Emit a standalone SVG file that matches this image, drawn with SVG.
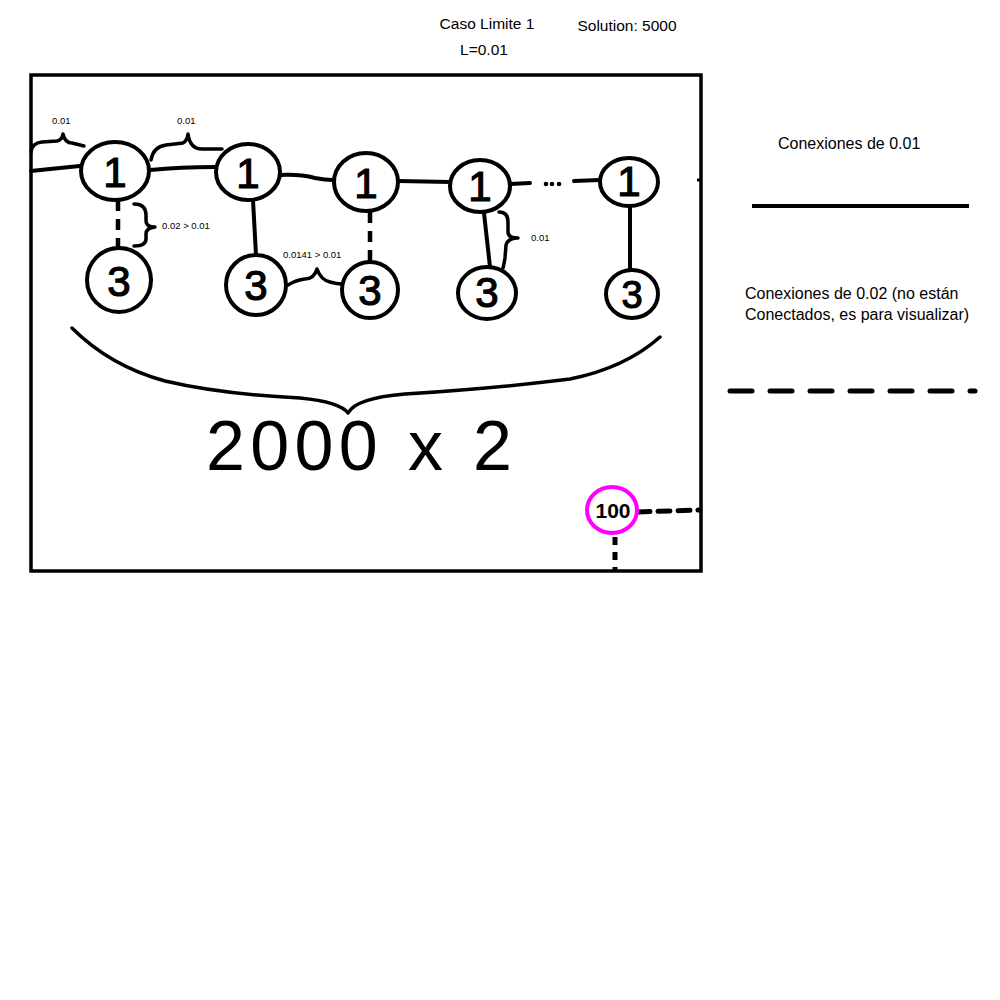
<svg xmlns="http://www.w3.org/2000/svg" width="1000" height="1000" viewBox="0 0 1000 1000">
<style>
.t{font-family:"Liberation Sans",Arial,sans-serif;fill:#000}
.title{font-size:15.5px}
.leg{font-size:16px}
.small{font-size:9.5px}
.node ellipse{fill:none;stroke:#000;stroke-width:4}
.num{font-family:"Liberation Sans",Arial,sans-serif;font-size:42px;fill:#000;stroke:#000;stroke-width:1.2;text-anchor:middle}
.solid{fill:none;stroke:#000;stroke-width:4;stroke-linecap:round;stroke-linejoin:round}
.dash{fill:none;stroke:#000;stroke-width:4.5;stroke-dasharray:11 8}
.brace{fill:none;stroke:#000;stroke-width:3.5;stroke-linecap:round;stroke-linejoin:round}
</style>
<rect width="1000" height="1000" fill="#fff"/>
<text class="t title" x="487" y="29" text-anchor="middle">Caso Limite 1</text>
<text class="t title" x="484" y="55" text-anchor="middle">L=0.01</text>
<text class="t title" x="627" y="31" text-anchor="middle">Solution: 5000</text>
<rect x="31" y="75" width="670" height="496" fill="none" stroke="#000" stroke-width="3.5"/>
<g id="connectors">
<path class="solid" d="M31,171 L50,169 L80,166"/>
<path class="brace" d="M31,152 Q32,143 42,142 L57,141 Q62,140 63,134 Q65,143 72,143 L84,146"/>
<path class="solid" d="M150,170 Q180,167 215,167"/>
<path class="brace" d="M151,160 Q153,147 166,145 L183,143 Q187,141 188,134 Q190,149 202,149 L222,149"/>
<line class="dash" x1="118" y1="200" x2="118" y2="248"/>
<path class="brace" d="M134,204 Q146,204 146,215 L146,221 Q146,227 155,227 Q146,228 146,234 L146,239 Q146,246 134,246"/>
<path class="solid" d="M253,200 L256,255"/>
<path class="solid" d="M280,175 Q300,174 315,178 Q325,180 333,180"/>
<path class="brace" d="M288,285 Q296,280 305,279 Q314,279 317,269 Q321,280 330,282 Q337,284 342,284"/>
<line class="dash" x1="370" y1="212" x2="370" y2="263"/>
<path class="solid" d="M398,181 L450,182"/>
<path class="solid" d="M484,213 L490,267"/>
<path class="brace" d="M499,212 Q508,212 508,222 L508,232 Q508,238 518,238 Q508,238 506,245 L505,258 Q504,264 503,268"/>
<path class="solid" d="M510,184 L530,183"/>
<circle cx="546" cy="184" r="2.3" fill="#000"/>
<circle cx="552" cy="184" r="2.3" fill="#000"/>
<circle cx="559" cy="184" r="2.3" fill="#000"/>
<path class="solid" d="M574,181 L600,180"/>
<line class="solid" x1="630" y1="207" x2="630" y2="270"/>
<line x1="697" y1="180" x2="701" y2="180" stroke="#000" stroke-width="3"/>
<path class="brace" d="M72,328 Q110,366 165,381 Q220,394 300,398 Q340,402 348,413 Q356,398 405,394 Q500,388 570,379 Q625,368 660,337"/>
<path d="M638,512 L700,510" fill="none" stroke="#000" stroke-width="5" stroke-dasharray="12 8" stroke-linecap="round"/>
<path d="M615,537 L615,571" fill="none" stroke="#000" stroke-width="5" stroke-dasharray="8 7"/>
</g>
<text class="t small" x="52" y="124">0.01</text>
<text class="t small" x="177" y="124">0.01</text>
<text class="t small" x="162" y="229">0.02 &gt; 0.01</text>
<text class="t small" x="283" y="258">0.0141 &gt; 0.01</text>
<text class="t small" x="531" y="241">0.01</text>
<g id="n1a" class="node"><ellipse cx="115" cy="171" rx="34" ry="29"/><text class="num" x="115" y="187">1</text></g>
<g id="n1b" class="node"><ellipse cx="248" cy="172" rx="32" ry="28"/><text class="num" x="248" y="188">1</text></g>
<g id="n1c" class="node"><ellipse cx="366" cy="182" rx="32" ry="29"/><text class="num" x="366" y="198">1</text></g>
<g id="n1d" class="node"><ellipse cx="480" cy="186" rx="30" ry="26"/><text class="num" x="480" y="201">1</text></g>
<g id="n1e" class="node"><ellipse cx="629" cy="182" rx="29" ry="24"/><text class="num" x="629" y="196">1</text></g>
<g id="n3a" class="node"><ellipse cx="119" cy="280" rx="32" ry="32"/><text class="num" x="119" y="296">3</text></g>
<g id="n3b" class="node"><ellipse cx="256" cy="285" rx="30" ry="30"/><text class="num" x="256" y="300">3</text></g>
<g id="n3c" class="node"><ellipse cx="370" cy="290" rx="28" ry="28"/><text class="num" x="370" y="305">3</text></g>
<g id="n3d" class="node"><ellipse cx="487" cy="293" rx="29" ry="26"/><text class="num" x="487" y="307">3</text></g>
<g id="n3e" class="node"><ellipse cx="632" cy="294" rx="26" ry="24"/><text class="num" x="632" y="308" style="font-size:38px">3</text></g>
<text class="t" x="206" y="470" font-size="70" textLength="306" lengthAdjust="spacing">2000 x 2</text>
<g id="n100"><ellipse cx="612" cy="510" rx="25" ry="23" fill="none" stroke="#ff00ff" stroke-width="4"/><text class="t" x="613" y="518" font-size="21" font-weight="bold" text-anchor="middle">100</text></g>
<g id="legend">
<text class="t leg" x="778" y="149">Conexiones de 0.01</text>
<line x1="752" y1="206" x2="969" y2="206" stroke="#000" stroke-width="4"/>
<text class="t leg" x="745" y="299" font-size="16.5">Conexiones de 0.02 (no están</text>
<text class="t leg" x="745" y="320" font-size="16.5">Conectados, es para visualizar)</text>
<line x1="730" y1="391" x2="975" y2="391" stroke="#000" stroke-width="5" stroke-dasharray="22 18" stroke-linecap="round"/>
</g>
</svg>
